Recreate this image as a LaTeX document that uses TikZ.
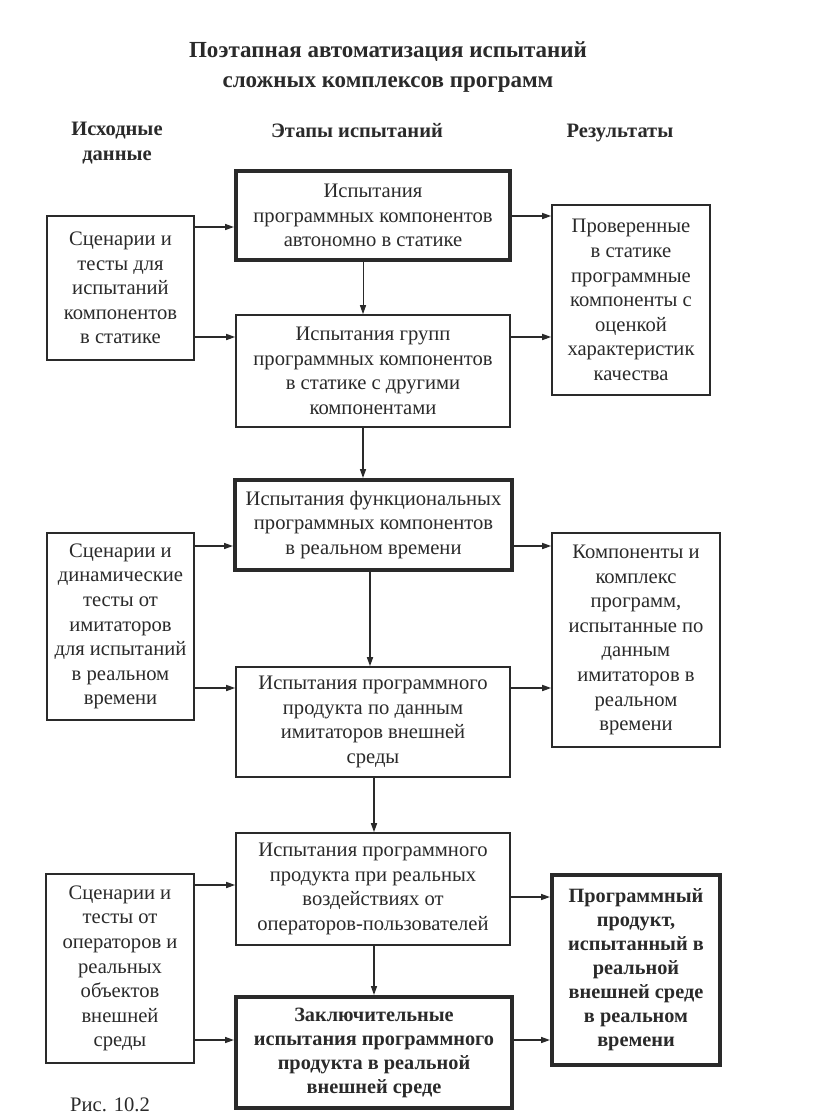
\documentclass[tikz,border=0pt]{standalone}
\usepackage{fontspec}
\setmainfont{Liberation Serif}
\usetikzlibrary{arrows.meta}
\definecolor{ink}{HTML}{2A2A2A}
\begin{document}
\begin{tikzpicture}[x=1pt,y=-1pt,
  txt/.style={font=\fontsize{20.6}{24.6}\selectfont, text=ink, align=center, inner sep=0pt},
  thinbox/.style={draw=ink, line width=1.6pt, txt},
  thickbox/.style={draw=ink, line width=4pt, txt},
  head/.style={font=\fontsize{20.5}{25}\selectfont\bfseries, text=ink, align=center},
  arr/.style={draw=ink, line width=1.5pt, -{Triangle[length=9pt,width=6pt]}},
  arrthin/.style={draw=ink, line width=1pt, -{Triangle[length=9pt,width=6pt]}}
]
\useasboundingbox (0,0) rectangle (816,1120);
\fill[white] (0,0) rectangle (816,1120);

% title and headers
\node[head, font=\fontsize{23}{30}\selectfont\bfseries] (title) at (388,67) {Поэтапная автоматизация испытаний\\сложных комплексов программ};
\node[head] (h1) at (117,143) {Исходные\\данные};
\node[head, anchor=base] (h2) at (357,137) {Этапы испытаний};
\node[head, anchor=base] (h3) at (620,137) {Результаты};

% center column
\node[thickbox, minimum width=274pt, minimum height=89pt] (c1) at (373,215.5)
  {Испытания\\программных компонентов\\автономно в статике};
\node[thinbox, minimum width=274pt, minimum height=112pt] (c2) at (373,371)
  {Испытания групп\\программных компонентов\\в статике с другими\\компонентами};
\node[thickbox, minimum width=277pt, minimum height=90pt] (c3) at (373.5,525)
  {Испытания функциональных\\программных компонентов\\в реальном времени};
\node[thinbox, minimum width=274pt, minimum height=110pt] (c4) at (373,722)
  {Испытания программного\\продукта по данным\\имитаторов внешней\\среды};
\node[thinbox, minimum width=274pt, minimum height=112pt] (c5) at (373,889)
  {Испытания программного\\продукта при реальных\\воздействиях от\\операторов-пользователей};
\node[thickbox, minimum width=276pt, minimum height=111pt, font=\fontsize{20.3}{24}\selectfont\bfseries] (c6) at (374,1052.5)
  {Заключительные\\испытания программного\\продукта в реальной\\внешней среде};

% left column
\node[thinbox, minimum width=147pt, minimum height=144pt] (l1) at (120.5,288)
  {Сценарии и\\тесты для\\испытаний\\компонентов\\в статике};
\node[thinbox, minimum width=147pt, minimum height=187pt] (l2) at (120.5,626.5)
  {Сценарии и\\динамические\\тесты от\\имитаторов\\для испытаний\\в реальном\\времени};
\node[thinbox, minimum width=148pt, minimum height=189pt] (l3) at (120,968.5)
  {Сценарии и\\тесты от\\операторов и\\реальных\\объектов\\внешней\\среды};

% right column
\node[thinbox, minimum width=158pt, minimum height=190pt] (r1) at (631,300)
  {Проверенные\\в статике\\программные\\компоненты с\\оценкой\\характеристик\\качества};
\node[thinbox, minimum width=168pt, minimum height=214pt] (r2) at (636,640)
  {Компоненты и\\комплекс\\программ,\\испытанные по\\данным\\имитаторов в\\реальном\\времени};
\node[thickbox, minimum width=168pt, minimum height=190pt, font=\fontsize{20.3}{24}\selectfont\bfseries] (r3) at (636,970)
  {Программный\\продукт,\\испытанный в\\реальной\\внешней среде\\в реальном\\времени};

\node[txt] (cap) at (110,1105) {Рис. 10.2};

% vertical arrows
\draw[arrthin] (c1.south -| 363,0) -- (c2.north -| 363,0);
\draw[arr] (c2.south -| 363,0) -- (c3.north -| 363,0);
\draw[arr] (c3.south -| 370,0) -- (c4.north -| 370,0);
\draw[arr] (c4.south -| 374,0) -- (c5.north -| 374,0);
\draw[arr] (c5.south -| 374,0) -- (c6.north -| 374,0);

% left arrows
\draw[arr] (l1.east |- 0,227) -- (c1.west |- 0,227);
\draw[arr] (l1.east |- 0,337) -- (c2.west |- 0,337);
\draw[arr] (l2.east |- 0,546) -- (c3.west |- 0,546);
\draw[arr] (l2.east |- 0,688) -- (c4.west |- 0,688);
\draw[arr] (l3.east |- 0,885) -- (c5.west |- 0,885);
\draw[arr] (l3.east |- 0,1040) -- (c6.west |- 0,1040);

% right arrows
\draw[arr] (c1.east |- 0,216) -- (r1.west |- 0,216);
\draw[arr] (c2.east |- 0,337) -- (r1.west |- 0,337);
\draw[arr] (c3.east |- 0,546) -- (r2.west |- 0,546);
\draw[arr] (c4.east |- 0,688) -- (r2.west |- 0,688);
\draw[arr] (c5.east |- 0,897) -- (r3.west |- 0,897);
\draw[arr] (c6.east |- 0,1040) -- (r3.west |- 0,1040);
\end{tikzpicture}
\end{document}
